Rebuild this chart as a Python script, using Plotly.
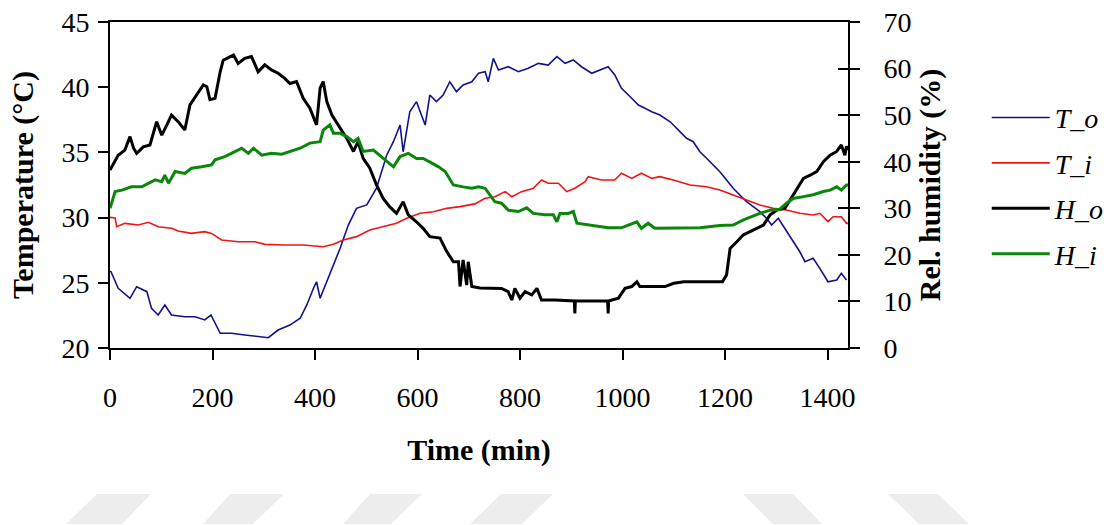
import plotly.graph_objects as go

# ---- measured series (time in minutes) ----
t_out_time = [0, 2, 16, 39, 52, 72, 81, 94, 107, 120, 146, 166, 185, 197, 215, 237, 263, 289, 309, 328,
              351, 371, 384, 397, 403, 410, 423, 436, 449, 465, 481, 501, 520, 540, 553, 566, 572, 585,
              598, 615, 624, 637, 650, 663, 676, 689, 706, 719, 732, 738, 748, 758, 777, 797, 816, 836,
              855, 872, 888, 904, 920, 940, 956, 972, 985, 998, 1018, 1031, 1044, 1057, 1073, 1093,
              1112, 1125, 1138, 1151, 1164, 1177, 1190, 1203, 1216, 1229, 1242, 1255, 1268, 1281, 1291,
              1304, 1317, 1333, 1346, 1356, 1372, 1385, 1401, 1418, 1427, 1437]
t_out = [25.9, 25.85, 24.58, 23.81, 24.70, 24.32, 23.04, 22.53, 23.30, 22.53, 22.40, 22.40, 22.15, 22.53,
         21.13, 21.13, 21.0, 20.87, 20.79, 21.38,
         21.76, 22.28, 23.30, 24.58, 25.08, 23.81, 25.08, 26.36, 27.65, 29.43, 30.71, 30.97, 32.25, 34.80,
         35.82, 37.10, 35.05, 38.12,
         38.89, 37.10, 39.40, 38.89, 39.40, 40.42, 39.66, 40.17, 40.42, 41.07, 41.19, 40.42, 42.21, 41.32,
         41.57, 41.19, 41.45, 41.83,
         41.70, 42.34, 41.83, 42.09, 41.57, 41.07, 41.32, 41.57, 40.94, 39.91, 39.15, 38.63, 38.38, 38.12,
         37.87, 37.35,
         36.59, 36.08, 35.82, 35.05, 34.55, 34.03, 33.52, 32.88, 32.25, 31.73, 31.22, 30.84, 30.45, 29.95,
         29.43,
         29.95, 29.18, 28.15, 27.38, 26.62, 26.88, 26.11, 25.08, 25.21, 25.73, 25.21]

t_in_time = [0, 10, 13, 29, 55, 75, 94, 120, 133, 159, 185, 198, 218, 250, 283, 302, 341, 377, 416, 436,
             455, 481, 507, 533, 559, 579, 605, 631, 657, 683, 712, 732, 751, 771, 784, 803, 826, 842,
             855, 875, 891, 907, 927, 933, 959, 985, 998, 1018, 1037, 1057, 1073, 1099, 1132, 1164,
             1190, 1216, 1242, 1268, 1294, 1320, 1346, 1372, 1385, 1401, 1411, 1427, 1437, 1440]
t_in = [30.02, 29.98, 29.3, 29.56, 29.43, 29.64, 29.30, 29.18, 28.97, 28.79, 28.92, 28.79, 28.28, 28.15,
        28.15, 27.95, 27.90, 27.90, 27.77, 27.95,
        28.28, 28.54, 29.05, 29.30, 29.56, 29.95, 30.33, 30.45, 30.71, 30.84, 31.05, 31.48, 31.60, 31.99,
        31.60, 31.99, 32.25, 32.88,
        32.63, 32.63, 31.99, 32.25, 32.75, 33.14, 32.88, 32.88, 33.40, 33.01, 33.40, 33.01, 33.14, 32.88,
        32.50, 32.37,
        32.12, 31.73, 31.35, 30.97, 30.71, 30.58, 30.33, 30.20, 30.33, 29.69, 30.07, 30.07, 29.56, 29.56]

h_out_time = [0, 16, 29, 39, 46, 52, 65, 78, 91, 101, 111, 120, 133, 146, 156, 169, 182, 189, 195, 205,
              215, 221, 241, 250, 263, 276, 289, 302, 315, 328, 341, 351, 364, 377, 390, 403, 410, 416,
              423, 433, 449, 462, 475, 484, 494, 507, 520, 533, 546, 559, 572, 582, 598, 611, 624, 644,
              657, 670, 680, 683, 689, 696, 699, 706, 722, 738, 764, 777, 784, 790, 800, 810, 823, 833,
              842, 868, 906, 907, 908, 971, 972, 973, 992, 1005, 1018, 1028, 1034, 1083, 1100, 1120,
              1195, 1203, 1210, 1223, 1236, 1249, 1262, 1275, 1288, 1301, 1317, 1327, 1340, 1353, 1366,
              1379, 1392, 1405, 1418, 1427, 1434, 1437, 1440]
h_out = [38.2, 41.4, 42.5, 45.4, 42.9, 41.8, 43.2, 43.6, 48.6, 45.7, 47.9, 50.0, 48.6, 46.8, 52.2, 54.3,
         56.5, 56.1, 53.3, 53.6,
         59.3, 61.8, 62.9, 61.1, 62.2, 62.6, 59.3, 60.8, 59.7, 59.0, 57.9, 56.8, 57.2, 53.6, 51.5, 47.9,
         55.8, 57.2,
         52.9, 50.0, 47.2, 45.0, 42.2, 44.3, 40.7, 38.6, 35.0, 32.1, 30.3, 28.9, 31.4, 28.6, 27.1, 25.7,
         23.9, 23.6,
         20.7, 18.5, 18.5, 13.2, 18.9, 13.5, 18.5, 13.2, 12.9, 12.9, 12.8, 12.1, 10.3, 12.8, 10.7, 12.1,
         11.4, 12.8,
         10.3, 10.3, 10.1, 7.4, 10.1, 10.1, 7.4, 10.1, 10.7, 12.8, 13.2, 14.2, 13.2, 13.2, 13.9, 14.2,
         14.2, 15.7, 21.4, 22.8, 24.3, 25.0, 25.7, 26.4, 28.6, 29.6, 30.0, 31.8, 33.9, 36.4, 37.1,
         37.9, 40.0, 41.4, 42.2, 43.6, 41.4, 43.3, 42.5]

h_in_time = [0, 10, 23, 42, 62, 75, 88, 101, 107, 114, 127, 146, 159, 179, 198, 205, 224, 237, 257, 270,
             280, 296, 315, 335, 351, 371, 390, 410, 416, 429, 436, 449, 462, 475, 484, 494, 514, 533,
             553, 566, 582, 598, 611, 628, 641, 654, 670, 689, 706, 719, 732, 751, 764, 777, 797, 813,
             826, 849, 865, 872, 878, 894, 904, 911, 933, 953, 972, 998, 1011, 1028, 1037, 1050, 1063,
             1083, 1112, 1151, 1190, 1216, 1236, 1252, 1268, 1288, 1307, 1320, 1333, 1353, 1372, 1392,
             1405, 1418, 1427, 1437, 1440]
h_in = [30.0, 33.6, 33.9, 34.6, 34.6, 35.4, 36.1, 35.7, 37.1, 35.4, 37.9, 37.5, 38.6, 38.9, 39.3, 40.4,
        41.1, 41.8, 42.9, 41.8,
        42.9, 41.4, 41.8, 41.6, 42.2, 42.9, 44.0, 44.3, 46.8, 47.9, 46.1, 46.1, 45.4, 44.3, 45.0, 42.2,
        42.5, 40.7,
        38.9, 41.1, 41.8, 40.7, 40.7, 39.7, 38.9, 37.9, 35.0, 34.6, 34.3, 34.6, 34.3, 31.4, 31.1, 29.6,
        29.3, 30.1,
        28.9, 28.6, 28.6, 27.1, 28.9, 28.9, 29.3, 26.8, 26.4, 26.1, 25.8, 25.8, 26.4, 27.1, 25.7, 26.8,
        25.7,
        25.7, 25.7, 25.8, 26.3, 26.4, 27.5, 28.2, 28.9, 29.6, 29.8, 31.1, 32.1, 32.5, 32.9, 33.6,
        33.9, 34.6, 33.9, 35.0, 35.0]

x_ticks = [0, 200, 400, 600, 800, 1000, 1200, 1400]
temp_ticks = [20, 25, 30, 35, 40, 45]
rh_ticks = [0, 10, 20, 30, 40, 50, 60, 70]

SERIF = "Liberation Serif, Times New Roman, serif"
TICK_SIZE = 28
TITLE_SIZE = 30

fig = go.Figure()
fig.add_trace(go.Scatter(x=t_out_time, y=t_out, name="T_o", mode="lines", legendgroup="a",
                         line=dict(color="#12128c", width=1.6), yaxis="y"))
fig.add_trace(go.Scatter(x=t_in_time, y=t_in, name="T_i", mode="lines", legendgroup="b",
                         line=dict(color="#f01414", width=1.6), yaxis="y"))
fig.add_trace(go.Scatter(x=h_out_time, y=h_out, name="H_o", mode="lines", legendgroup="c",
                         line=dict(color="#000000", width=3), yaxis="y2"))
fig.add_trace(go.Scatter(x=h_in_time, y=h_in, name="H_i", mode="lines", legendgroup="d",
                         line=dict(color="#0a860a", width=3), yaxis="y2"))

axis_line = dict(showline=True, linecolor="black", linewidth=2, showgrid=False, zeroline=False,
                 automargin=False)

# light watermark bands below the chart
bands = [((97, 151), (66, 122)), ((230, 284), (203, 253)), ((370, 422), (343, 391)),
         ((501, 553), (470, 522)), ((743, 793), (773, 822)), ((888, 938), (919, 969))]
L, R, T, B = 110, 848, 22, 348
def px(xp):
    return (xp - L) / (R - L)
def py(yp):
    return (B - yp) / (B - T)
shapes = []
for (tl, tr), (bl, br) in bands:
    path = (f"M {px(tl)},{py(494)} L {px(tr)},{py(494)} "
            f"L {px(br)},{py(524)} L {px(bl)},{py(524)} Z")
    shapes.append(dict(type="path", path=path, xref="paper", yref="paper",
                       fillcolor="#ededed", line=dict(width=0), layer="below"))

fig.update_layout(
    width=1109, height=525,
    margin=dict(l=L, r=1109 - R, t=T, b=525 - B, autoexpand=False),
    paper_bgcolor="white", plot_bgcolor="white",
    font=dict(family=SERIF, size=TICK_SIZE, color="black"),
    xaxis=dict(range=[0, 1440], tickvals=x_ticks, ticks="outside", ticklen=10, tickwidth=2,
               tickcolor="black", mirror=True, ticklabelstandoff=13,
               title=dict(text="Time (min)", font=dict(size=TITLE_SIZE, weight="bold"), standoff=27),
               **axis_line),
    yaxis=dict(range=[20, 45], tickvals=temp_ticks, ticks="outside", ticklen=10, tickwidth=2,
               tickcolor="black", ticklabelstandoff=3,
               title=dict(text="Temperature (°C)", font=dict(size=TITLE_SIZE, weight="bold"), standoff=19),
               **axis_line),
    yaxis2=dict(range=[0, 70], tickvals=rh_ticks, ticks="outside", ticklen=10, tickwidth=2,
                tickcolor="black", overlaying="y", side="right", anchor="x", ticklabelstandoff=18,
                title=dict(text="Rel. humidity (%)", font=dict(size=TITLE_SIZE, weight="bold"), standoff=8),
                **axis_line),
    yaxis3=dict(range=[0, 70], tickvals=rh_ticks, ticks="inside", ticklen=10, tickwidth=2,
                tickcolor="black", overlaying="y", side="right", anchor="x",
                showticklabels=False, showline=False, showgrid=False, zeroline=False),
    legend=dict(x=1.188, y=0.783, xanchor="left", yanchor="top", bgcolor="rgba(0,0,0,0)",
                font=dict(family=SERIF, size=28, style="italic"), itemwidth=58,
                tracegroupgap=6),
    showlegend=True,
    shapes=shapes,
)

# invisible trace so the inside-tick axis is drawn
fig.add_trace(go.Scatter(x=[None], y=[None], yaxis="y3", showlegend=False, hoverinfo="skip"))

fig.write_html("out.html")
